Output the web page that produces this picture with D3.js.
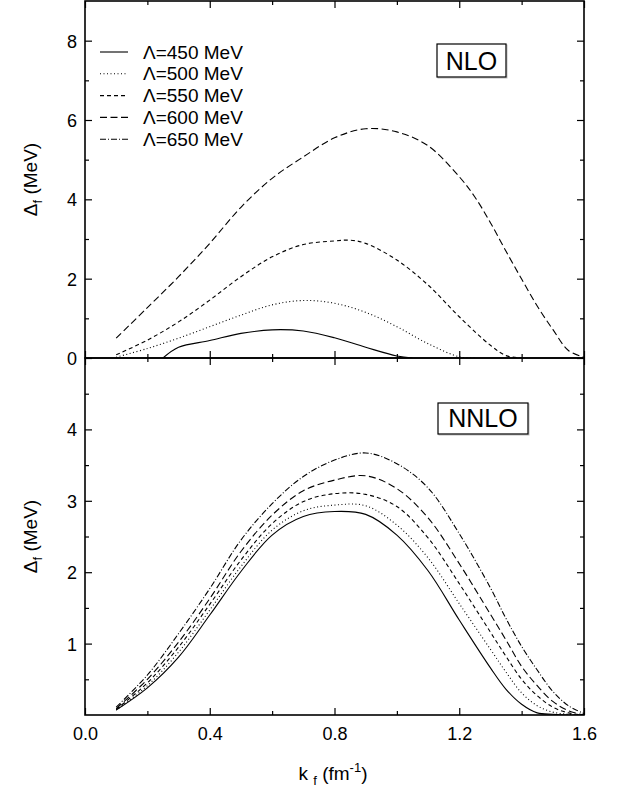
<!DOCTYPE html>
<html><head><meta charset="utf-8">
<script src="https://cdn.jsdelivr.net/npm/d3@7"></script>
<style>
html,body{margin:0;padding:0;background:#fff;}
svg{display:block;font-family:"Liberation Sans",Arial,Helvetica,sans-serif;}
</style></head>
<body>
<svg id="chart" width="628" height="791"></svg>
<script>
// ---------------- DATA ----------------
const seriesLabels = ["\u039B=450 MeV","\u039B=500 MeV","\u039B=550 MeV","\u039B=600 MeV","\u039B=650 MeV"];
const dashStyles = ["none","1,2.5","4,3","7,3.5","6,2,1,2"];

// NLO panel (upper)
const kfNLO450 = [0.25,0.30,0.40,0.50,0.60,0.70,0.80,0.90,1.00,1.05];
const nlo450   = [0.00,0.27,0.44,0.62,0.71,0.68,0.51,0.27,0.05,0.00];
const kfNLO500 = [0.10,0.20,0.30,0.40,0.50,0.60,0.70,0.80,0.90,1.00,1.10,1.20,1.25];
const nlo500   = [0.02,0.24,0.50,0.79,1.08,1.34,1.45,1.38,1.15,0.79,0.36,0.03,0.00];
const kfNLO550 = [0.10,0.20,0.30,0.40,0.50,0.60,0.70,0.80,0.85,0.90,1.00,1.10,1.20,1.30,1.35,1.40];
const nlo550   = [0.08,0.45,0.91,1.46,2.05,2.55,2.86,2.95,2.97,2.89,2.47,1.84,1.04,0.32,0.06,0.00];
const kfNLO600 = [0.10,0.20,0.30,0.40,0.50,0.60,0.70,0.80,0.90,1.00,1.10,1.20,1.25,1.30,1.35,1.40,1.45,1.50,1.55,1.60];
const nlo600   = [0.50,1.27,2.05,2.89,3.80,4.53,5.07,5.55,5.78,5.70,5.35,4.57,4.06,3.41,2.69,1.99,1.31,0.72,0.19,0.02];

// NNLO panel (lower)
const kfNNLO  = [0.10,0.20,0.30,0.40,0.50,0.60,0.70,0.80,0.90,1.00,1.10,1.20,1.30,1.35,1.40,1.45,1.50,1.55,1.60];
const nnlo450 = [0.07,0.38,0.81,1.40,2.01,2.52,2.78,2.85,2.81,2.52,2.02,1.33,0.66,0.36,0.15,0.03,0.01,0.00,0.00];
const nnlo500 = [0.07,0.41,0.88,1.47,2.08,2.59,2.86,2.94,2.93,2.66,2.20,1.56,0.92,0.60,0.31,0.13,0.04,0.01,0.00];
const nnlo550 = [0.08,0.45,0.95,1.55,2.17,2.68,2.99,3.10,3.09,2.92,2.48,1.84,1.16,0.82,0.50,0.27,0.11,0.03,0.00];
const nnlo600 = [0.09,0.50,1.02,1.63,2.29,2.80,3.14,3.29,3.35,3.17,2.76,2.12,1.41,1.05,0.68,0.41,0.19,0.06,0.00];
const nnlo650 = [0.11,0.56,1.14,1.77,2.45,2.96,3.34,3.57,3.67,3.52,3.18,2.54,1.78,1.35,0.96,0.63,0.33,0.13,0.02];

const xTicksMajor = [0.0,0.4,0.8,1.2,1.6];
const xTicksMinor = [0.2,0.6,1.0,1.4];
const yTopMajor = [0,2,4,6,8];
const yTopMinor = [1,3,5,7];
const yBotMajor = [1,2,3,4];
const yBotMinor = [0.5,1.5,2.5,3.5,4.5];

// ---------------- LAYOUT ----------------
const L = 85, R = 584, T = 1, M = 358, B = 715;
const svg = d3.select("#chart");

const x = d3.scaleLinear().domain([0,1.6]).range([L,R]);
const yTop = d3.scaleLinear().domain([0,9]).range([M,T]);
const yBot = d3.scaleLinear().domain([0,5]).range([B,M]);

const defs = svg.append("defs");
defs.append("clipPath").attr("id","clipTop").append("rect")
  .attr("x",L).attr("y",T).attr("width",R-L).attr("height",M-T);
defs.append("clipPath").attr("id","clipBot").append("rect")
  .attr("x",L).attr("y",M).attr("width",R-L).attr("height",B-M);

const MAJ = 7, MIN = 4;
function styleAxis(g){
  g.select(".domain").remove();
  g.selectAll(".tick line").attr("stroke","#000").attr("stroke-width",1.2);
  g.selectAll(".tick text").attr("fill","#000").attr("font-size",18)
    .attr("font-family",'"Liberation Sans",Arial,Helvetica,sans-serif');
}
function addAxis(axisFn, scale, vals, size, labels, transform, fmt){
  const a = axisFn(scale).tickValues(vals).tickSize(-size).tickPadding(8)
    .tickFormat(labels ? fmt : () => "");
  const g = svg.append("g").attr("transform",transform).call(a);
  styleAxis(g);
  return g;
}

// top panel axes
const yl1 = addAxis(d3.axisLeft, yTop, yTopMajor, MAJ, true, `translate(${L},0)`, d3.format("d"));
addAxis(d3.axisLeft, yTop, yTopMinor, MIN, false, `translate(${L},0)`);
addAxis(d3.axisRight, yTop, yTopMajor, MAJ, false, `translate(${R},0)`);
addAxis(d3.axisRight, yTop, yTopMinor, MIN, false, `translate(${R},0)`);
addAxis(d3.axisTop, x, xTicksMajor, MAJ, false, `translate(0,${T})`);
addAxis(d3.axisTop, x, xTicksMinor, MIN, false, `translate(0,${T})`);
addAxis(d3.axisBottom, x, xTicksMajor, MAJ, false, `translate(0,${M})`);
addAxis(d3.axisBottom, x, xTicksMinor, MIN, false, `translate(0,${M})`);

// bottom panel axes
const yl2 = addAxis(d3.axisLeft, yBot, yBotMajor, MAJ, true, `translate(${L},0)`, d3.format("d"));
addAxis(d3.axisLeft, yBot, yBotMinor, MIN, false, `translate(${L},0)`);
addAxis(d3.axisRight, yBot, yBotMajor, MAJ, false, `translate(${R},0)`);
addAxis(d3.axisRight, yBot, yBotMinor, MIN, false, `translate(${R},0)`);
addAxis(d3.axisTop, x, xTicksMajor, MAJ, false, `translate(0,${M})`);
addAxis(d3.axisTop, x, xTicksMinor, MIN, false, `translate(0,${M})`);
const xb = addAxis(d3.axisBottom, x, xTicksMajor, MAJ, true, `translate(0,${B})`, d3.format(".1f"));
xb.selectAll(".tick text").attr("dy","0.95em");
addAxis(d3.axisBottom, x, xTicksMinor, MIN, false, `translate(0,${B})`);
[yl1,yl2].forEach(g=>g.selectAll(".tick text").attr("dy","0.36em"));

// frames
svg.append("rect").attr("x",L).attr("y",T).attr("width",R-L).attr("height",M-T)
  .attr("fill","none").attr("stroke","#000").attr("stroke-width",1.6);
svg.append("rect").attr("x",L).attr("y",M).attr("width",R-L).attr("height",B-M)
  .attr("fill","none").attr("stroke","#000").attr("stroke-width",1.6);

// ---------------- CURVES ----------------
const nloSeries = [
  {kf:kfNLO450, v:nlo450, i:0},
  {kf:kfNLO500, v:nlo500, i:1},
  {kf:kfNLO550, v:nlo550, i:2},
  {kf:kfNLO600, v:nlo600, i:3}
];
const nnloSeries = [nnlo450,nnlo500,nnlo550,nnlo600,nnlo650].map((v,i)=>({kf:kfNNLO, v:v, i:i}));

function drawSeries(list, yScale, clip){
  const line = d3.line().x(d=>x(d[0])).y(d=>yScale(d[1])).curve(d3.curveCatmullRom.alpha(0.5));
  const g = svg.append("g").attr("clip-path",`url(#${clip})`);
  list.forEach(s=>{
    const pts = s.kf.map((k,j)=>[k,s.v[j]]);
    g.append("path").attr("d",line(pts)).attr("fill","none")
      .attr("stroke","#000").attr("stroke-width",1.1)
      .attr("stroke-dasharray",dashStyles[s.i]==="none"?null:dashStyles[s.i]);
  });
}
drawSeries(nloSeries, yTop, "clipTop");
drawSeries(nnloSeries, yBot, "clipBot");

// ---------------- LEGEND ----------------
const lg = svg.append("g");
seriesLabels.forEach((lab,i)=>{
  const yy = 52 + i*21.8;
  lg.append("line").attr("x1",100).attr("x2",128).attr("y1",yy).attr("y2",yy)
    .attr("stroke","#000").attr("stroke-width",1.1)
    .attr("stroke-dasharray",dashStyles[i]==="none"?null:dashStyles[i]);
  lg.append("text").attr("x",143).attr("y",yy+6.5).attr("font-size",19).text(lab);
});

// ---------------- PANEL TAGS ----------------
function tag(txt, bx, by, bw, bh, tx, ty){
  svg.append("rect").attr("x",bx+1).attr("y",by+1).attr("width",bw).attr("height",bh)
    .attr("fill","none").attr("stroke","#bbb").attr("stroke-width",1);
  svg.append("rect").attr("x",bx).attr("y",by).attr("width",bw).attr("height",bh)
    .attr("fill","#fff").attr("stroke","#000").attr("stroke-width",1.2);
  svg.append("text").attr("x",tx).attr("y",ty).attr("text-anchor","middle")
    .attr("font-size",25).text(txt);
}
tag("NLO", 437, 44, 69, 33, 471.5, 70);
tag("NNLO", 438, 403, 90, 31, 483, 427);

// ---------------- AXIS TITLES ----------------
function yTitle(cy){
  const t = svg.append("text").attr("transform",`translate(37,${cy}) rotate(-90)`)
    .attr("text-anchor","middle").attr("font-size",19);
  t.append("tspan").text("\u0394");
  t.append("tspan").attr("font-size",13).attr("dy",5).text("f");
  t.append("tspan").attr("dy",-5).text(" (MeV)");
}
yTitle((T+M)/2);
yTitle((M+B)/2);

const xt = svg.append("text").attr("x",333).attr("y",780).attr("text-anchor","middle").attr("font-size",19);
xt.append("tspan").text("k ");
xt.append("tspan").attr("font-size",13).attr("dy",5).text("f");
xt.append("tspan").attr("dy",-5).text(" (fm");
xt.append("tspan").attr("font-size",13).attr("dy",-8).text("-1");
xt.append("tspan").attr("dy",8).text(")");
</script>
</body></html>
